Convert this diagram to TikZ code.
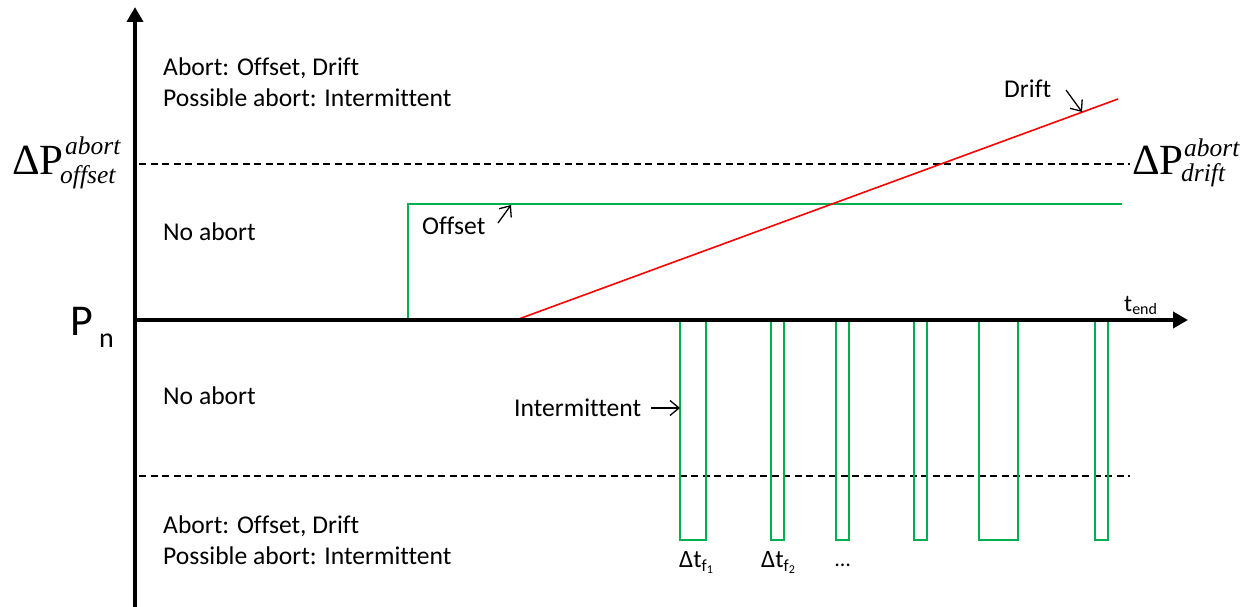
\documentclass[tikz,border=0pt]{standalone}
\usepackage{fontspec}
\setmainfont[Ligatures=NoCommon]{Carlito}
\newfontfamily\serif{Liberation Serif}
\usetikzlibrary{arrows.meta}
\definecolor{offgreen}{HTML}{00B050}
\definecolor{driftred}{HTML}{FF0000}
\begin{document}
\begin{tikzpicture}[x=1pt,y=-1pt,
  lbl/.style={anchor=base west,inner sep=0pt,font=\fontsize{25.6}{30}\selectfont},
  axis/.style={line width=4pt,-{Triangle[length=15pt,width=16pt]}},
  thr/.style={line width=1.3pt,dash pattern=on 7pt off 4.5pt},
  sig/.style={line width=2.3pt,draw=offgreen},
  note/.style={line width=1.3pt,-{Straight Barb[length=9pt,width=15pt]}},
  big/.style={anchor=base west,inner sep=0pt,font=\serif\fontsize{43}{43}\selectfont},
  scr/.style={anchor=base west,inner sep=0pt,font=\serif\itshape\fontsize{25.5}{25.5}\selectfont}]
\useasboundingbox (0,0) rectangle (1253,607);
% axes
\coordinate (ybot) at (135,607);
\coordinate (ytop) at (135,7);
\coordinate (xorg) at (133,320);
\coordinate (xend) at (1188,320);
% thresholds
\coordinate (u1) at (139,164); \coordinate (u2) at (1130,164);
\coordinate (l1) at (139,476); \coordinate (l2) at (1130,476);
\draw[thr] (u1) -- (u2);
\draw[thr] (l1) -- (l2);
% offset
\coordinate (o1) at (408,320); \coordinate (o2) at (408,204); \coordinate (o3) at (1122,204);
\draw[sig] (o1) -- (o2) -- (o3);
% drift
\coordinate (d1) at (516,320); \coordinate (d2) at (1118,99);
\draw[line width=1.6pt,driftred] (d1) -- (d2);
% intermittent pulses
\foreach \a/\b in {680/706,771/784,836/849,914/927,979/1018,1095/1108}{
  \draw[sig] (\a,320) -- (\a,540) -- (\b,540) -- (\b,320);
}
\draw[axis] (ybot) -- (ytop);
\draw[axis] (xorg) -- (xend);
% region texts
\node[lbl] (ta1) at (163,76) {Abort: Offset, Drift};
\node[lbl] (ta2) at (163,107) {Possible abort: Intermittent};
\node[lbl] (na1) at (163,240) {No abort};
\node[lbl] (na2) at (163,404) {No abort};
\node[lbl] (tb1) at (163,533) {Abort: Offset, Drift};
\node[lbl] (tb2) at (163,564) {Possible abort: Intermittent};
% annotations
\node[lbl] (ldrift) at (1004,98) {Drift};
\node[lbl] (loff) at (422,234) {Offset};
\node[lbl] (lint) at (514,416) {Intermittent};
\coordinate (ad1) at (1066,90); \coordinate (ad2) at (1082,112);
\coordinate (ao1) at (498,223); \coordinate (ao2) at (511,205);
\coordinate (ai1) at (651,408); \coordinate (ai2) at (680,408);
\draw[note] (ad1) -- (ad2);
\draw[note] (ao1) -- (ao2);
\draw[note] (ai1) -- (ai2);
% threshold labels
\node[big] (dpo) at (12,175) {ΔP};
\node[scr] (dpoa) at (65,155) {abort};
\node[scr] (dpob) at (60,183) {offset};
\node[big] (dpd) at (1132,175) {ΔP};
\node[scr] (dpda) at (1184,157) {abort};
\node[scr] (dpdb) at (1181,182) {drift};
% Pn
\node[anchor=base west,inner sep=0pt,font=\fontsize{44}{44}\selectfont] (pn) at (70,335) {P};
\node[anchor=base west,inner sep=0pt,font=\fontsize{28}{28}\selectfont] (pnn) at (99,347) {n};
% t_end
\node[anchor=base west,inner sep=0pt,font=\fontsize{24}{24}\selectfont] (tend) at (1124,311) {t\raisebox{-3pt}{\fontsize{16}{16}\selectfont end}};
% delta t
\node[anchor=base west,inner sep=0pt,font=\fontsize{25}{25}\selectfont] (dt1) at (679,567) {Δt\raisebox{-4pt}{\fontsize{17}{17}\selectfont f\raisebox{-2pt}{\fontsize{12}{12}\selectfont 1}}};
\node[anchor=base west,inner sep=0pt,font=\fontsize{25}{25}\selectfont] (dt2) at (761,567) {Δt\raisebox{-4pt}{\fontsize{17}{17}\selectfont f\raisebox{-2pt}{\fontsize{12}{12}\selectfont 2}}};
\node[anchor=base west,inner sep=0pt,font=\fontsize{22}{22}\selectfont] (dots) at (835,566) {…};
\end{tikzpicture}
\end{document}
